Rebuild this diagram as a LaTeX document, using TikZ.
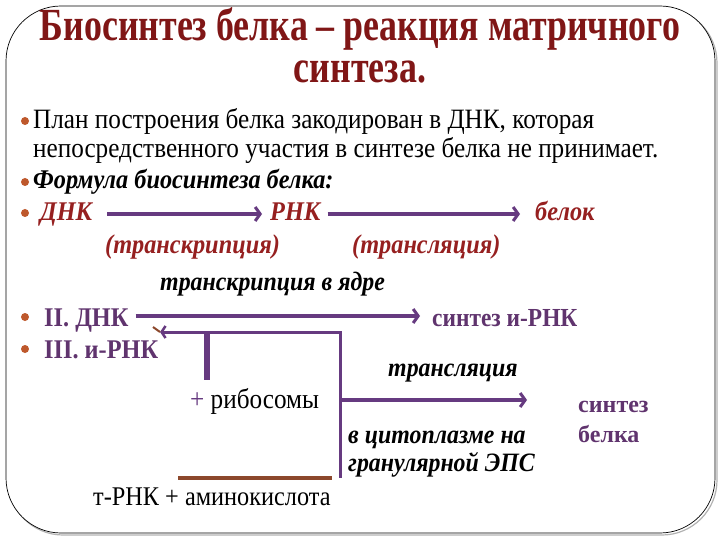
\documentclass[tikz,border=0pt]{standalone}
\usepackage{fontspec}
\setmainfont{Liberation Serif}[FakeStretch=0.9]
\newfontfamily\titlefont{Liberation Serif}[FakeStretch=0.78]
\newfontfamily\widefont{Liberation Serif}
\usetikzlibrary{arrows.meta}

\definecolor{titlered}{RGB}{128,22,22}
\definecolor{formulared}{RGB}{150,32,32}
\definecolor{flowviolet}{RGB}{102,58,128}
\definecolor{labelviolet}{RGB}{96,52,110}
\definecolor{bulletorange}{RGB}{190,88,44}
\definecolor{trnabrown}{RGB}{140,72,44}

\tikzset{
  txt/.style={anchor=base west, inner sep=0pt, font=\fontsize{28}{32}\selectfont},
  formula/.style={txt, text=formulared, font=\fontsize{27}{31}\selectfont\bfseries\itshape},
  note/.style={txt, font=\fontsize{26.5}{30}\selectfont\bfseries\itshape},
  stage/.style={txt, text=labelviolet, font=\fontsize{27}{31}\selectfont\bfseries},
  dot/.style={circle, fill=bulletorange, inner sep=0pt, minimum size=8pt},
  flow/.style={draw=flowviolet, line width=3.5pt,
    -{Straight Barb[length=5pt, width=14pt, line width=3pt]}},
  path/.style={draw=flowviolet, line width=3pt}
}

\begin{document}
\begin{tikzpicture}[x=1pt, y=-1pt]
  \useasboundingbox (0,0) rectangle (720,540);

  % Draw the frame
  \draw[gray!60, line width=1.2pt, rounded corners=55pt] (8,8) rectangle (717,535);
  \draw[black, line width=0.7pt, fill=white, rounded corners=55pt] (6,6) rectangle (715,533);

  % Title
  \node[anchor=base, inner sep=0pt, text=titlered, font=\fontsize{46}{50}\titlefont\bfseries]
    (title1) at (360,41) {Биосинтез белка – реакция матричного};
  \node[anchor=base, inner sep=0pt, text=titlered, font=\fontsize{46}{50}\titlefont\bfseries]
    (title2) at (360,83) {синтеза.};

  % Bullets
  \foreach \y in {121,182,213,317,349}
    \node[dot] at (25,\y) {};

  % Plan of the protein
  \node[txt] (plan1) at (33,129) {План построения белка закодирован в ДНК, которая};
  \node[txt] (plan2) at (33,158) {непосредственного участия в синтезе белка не принимает.};
  \node[txt, font=\fontsize{27}{31}\selectfont\bfseries\itshape] (rule) at (33,189) {Формула биосинтеза белка:};

  % Formula row
  \node[formula] (dna) at (40,221) {ДНК};
  \node[formula] (rna) at (270,221) {РНК};
  \node[formula] (protein) at (535,221) {белок};
  \draw[flow, shorten <=15pt, shorten >=8pt] (dna.east |- 0,214) -- (rna.west |- 0,214);
  \draw[flow, shorten <=7pt, shorten >=15pt] (rna.east |- 0,214) -- (protein.west |- 0,214);
  \node[formula] (transcr) at (105,253) {(транскрипция)};
  \node[formula] (transl) at (352,253) {(трансляция)};
  \node[note] (nucleus) at (160,290) {транскрипция в ядре};

  % Stage II
  \node[stage] (stage2) at (44,326) {II. ДНК};
  \node[stage, font=\fontsize{26}{30}\selectfont\bfseries] (mrna) at (432,326) {синтез и-РНК};
  \draw[flow, shorten <=7pt, shorten >=12pt] (stage2.east |- 0,316) -- (mrna.west |- 0,316);

  % Stage III
  \node[stage] (stage3) at (44,358) {III. и-РНК};
  \node[note] (transl2) at (388,376) {трансляция};
  \node[txt, font=\fontsize{28}{32}\selectfont] (ribo) at (190,408) {\textcolor{flowviolet}{+} рибосомы};
  \node[txt, text=labelviolet, font=\fontsize{24}{28}\widefont\bfseries] (synth) at (578,412) {синтез};
  \node[txt, text=labelviolet, font=\fontsize{24}{28}\widefont\bfseries] (synth2) at (578,442) {белка};
  \node[note] (cyto1) at (348,443) {в цитоплазме на};
  \node[note] (cyto2) at (348,471) {гранулярной ЭПС};
  \node[txt, font=\fontsize{27}{31}\selectfont] (trna) at (93,505) {т-РНК + аминокислота};

  % Translation branch
  \coordinate (tee) at (340,332);
  \coordinate (back) at (160,332);
  \coordinate (fork) at (340,400);
  \coordinate (foot) at (340,478);
  \coordinate (stub) at (207,380);
  \coordinate (hit) at (527,400);
  \draw[path, {Straight Barb[length=4pt, width=12pt, line width=2.5pt]}-] (back) -- (tee) -- (foot);
  \draw[flow] (fork) -- (hit);
  \draw[flowviolet, line width=6pt] (stub |- tee) -- (stub);
  \draw[trnabrown, line width=2pt] (153,327) -- (back);
  \draw[trnabrown, line width=3.5pt] (178,478) -- (332,478);
\end{tikzpicture}
\end{document}
